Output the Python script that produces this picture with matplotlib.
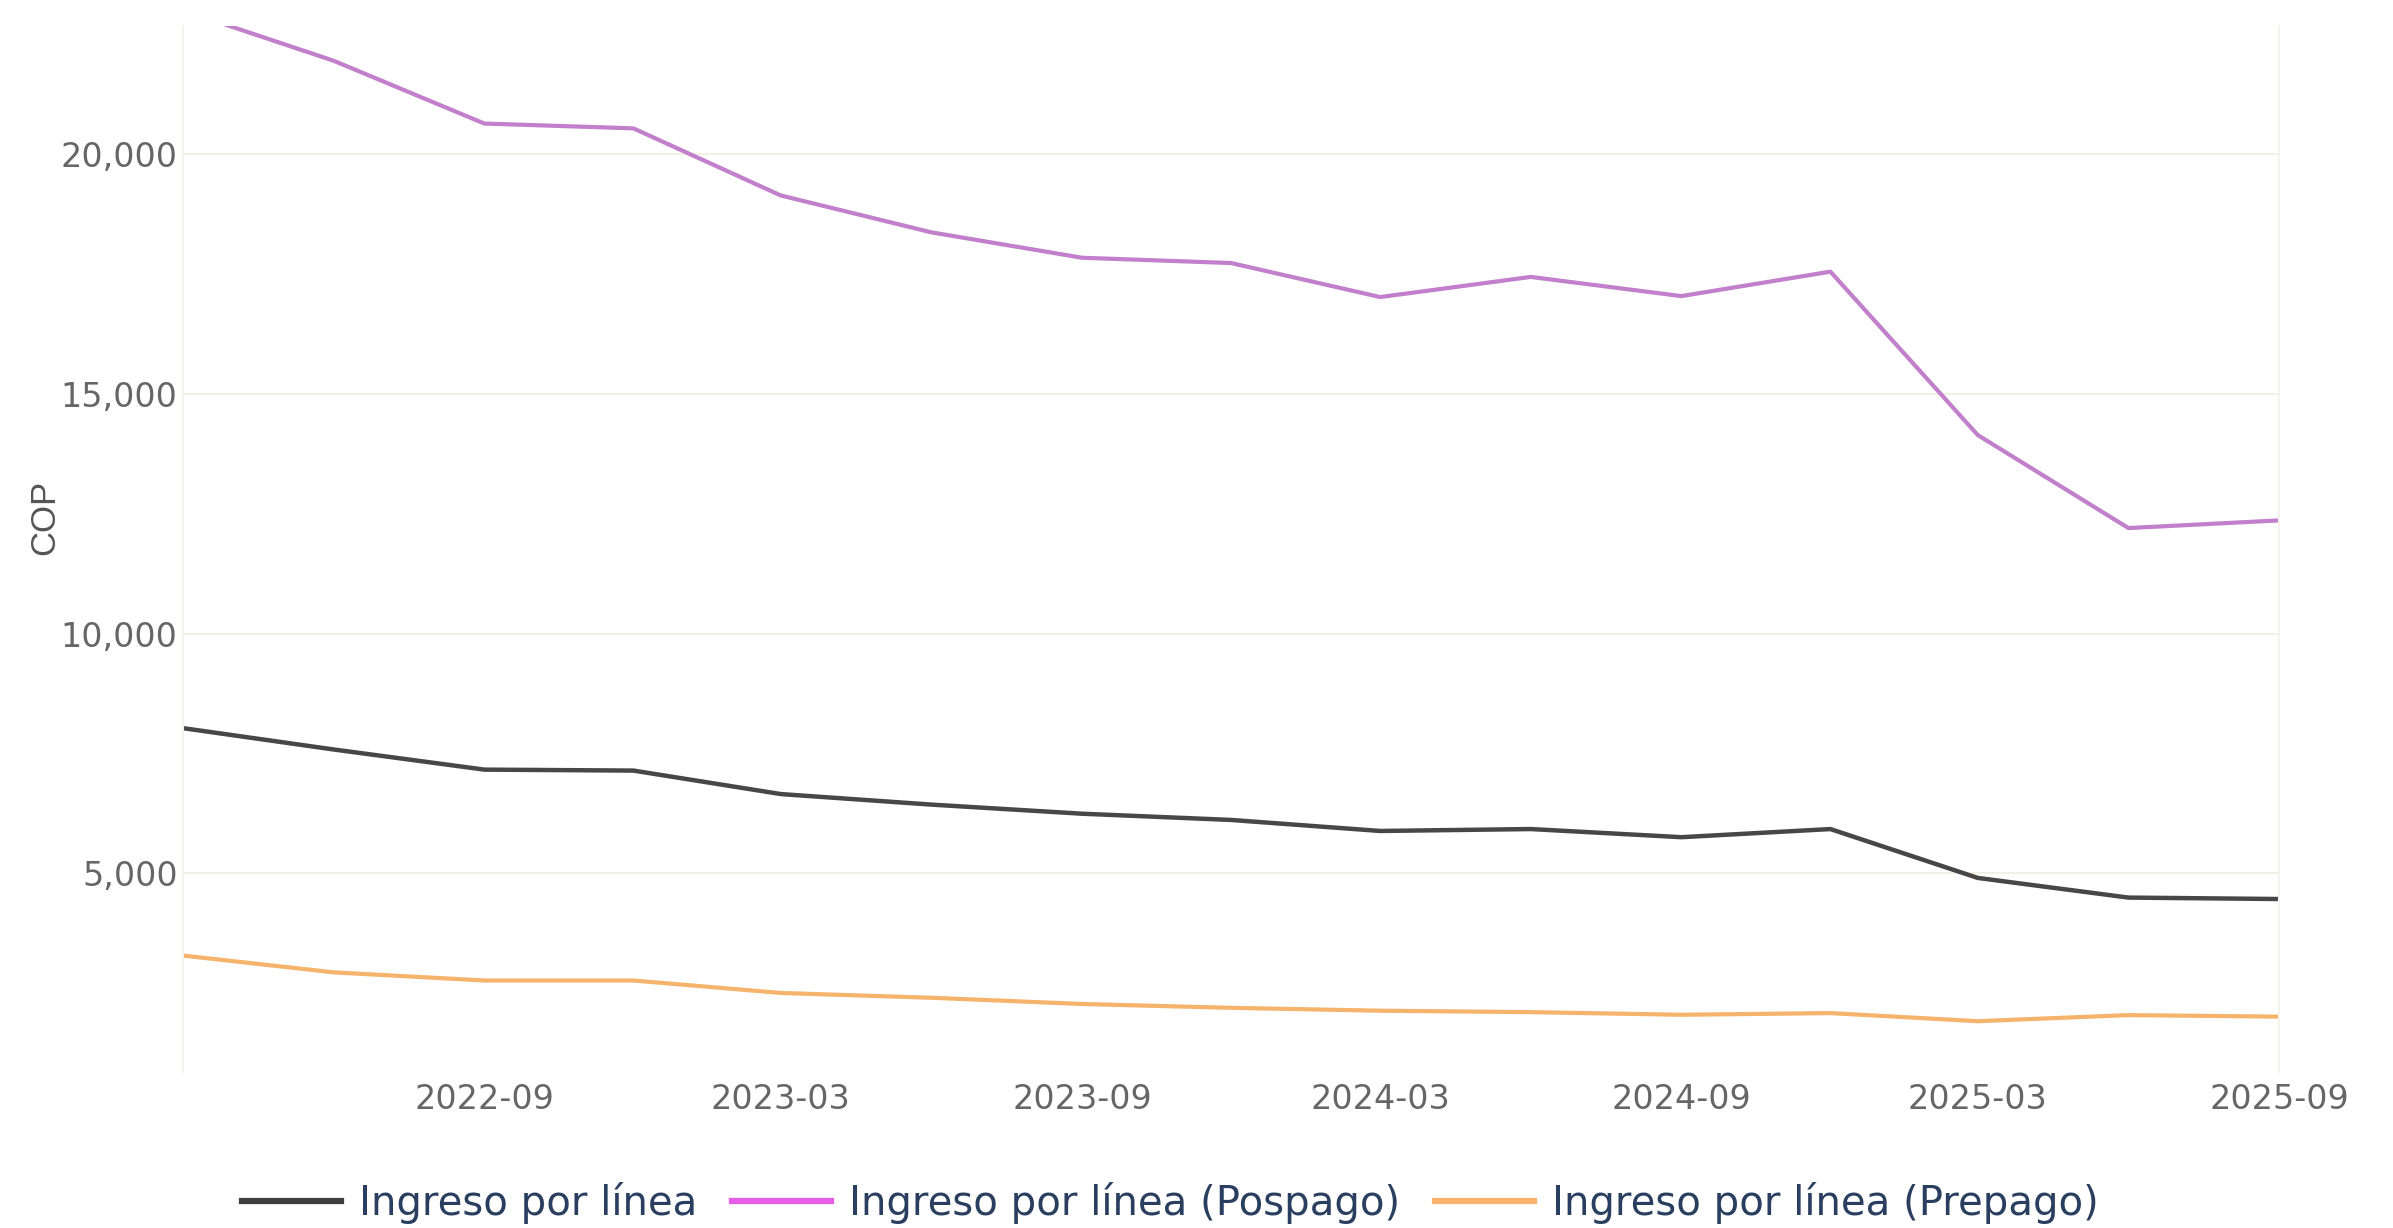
import matplotlib
matplotlib.use("Agg")
import matplotlib.pyplot as plt
import matplotlib.dates as mdates
from matplotlib.lines import Line2D
from matplotlib.ticker import FuncFormatter
import pandas as pd

periods = [
    "2022-03", "2022-06", "2022-09", "2022-12",
    "2023-03", "2023-06", "2023-09", "2023-12",
    "2024-03", "2024-06", "2024-09", "2024-12",
    "2025-03", "2025-06", "2025-09",
]
ingreso_total = [8025, 7580, 7160, 7140, 6650, 6430, 6240, 6110, 5880, 5920, 5750, 5920, 4900, 4490, 4460]
ingreso_pospago = [23000, 21950, 20640, 20540, 19140, 18370, 17840, 17730, 17020, 17440, 17040, 17550, 14140, 12200, 12360]
ingreso_prepago = [3280, 2930, 2760, 2760, 2500, 2400, 2270, 2190, 2130, 2100, 2045, 2080, 1911, 2038, 2006]
series_labels = ["Ingreso por línea", "Ingreso por línea (Pospago)", "Ingreso por línea (Prepago)"]
y_ticks = [5000, 10000, 15000, 20000]

dates = pd.to_datetime([p + "-01" for p in periods])

plt.rcParams["font.family"] = ["DejaVu Sans"]

fig = plt.figure(figsize=(23.93, 12.28), dpi=100)
ax = fig.add_axes([0.0765, 0.127, 0.8759, 0.852])

ax.plot(dates, ingreso_total, color="#474747", linewidth=3.2, solid_joinstyle="round")
ax.plot(dates, ingreso_pospago, color="#c17fcc", linewidth=3.0, solid_joinstyle="round")
ax.plot(dates, ingreso_prepago, color="#f6b36b", linewidth=3.0, solid_joinstyle="round")

ax.set_xlim(dates[0], dates[-1])
ax.set_ylim(850, 22680)

ax.set_yticks(y_ticks)
ax.yaxis.set_major_formatter(FuncFormatter(lambda v, _: f"{int(v):,}"))
ax.set_xticks(dates[2::2])
ax.xaxis.set_major_formatter(mdates.DateFormatter("%Y-%m"))

ax.tick_params(axis="both", length=0, labelsize=24, labelcolor="#666666")
ax.tick_params(axis="x", pad=8)
ax.tick_params(axis="y", pad=4)

ax.grid(axis="y", color="#f3f1e6", linewidth=1.5)
ax.set_axisbelow(True)
for side in ["top", "bottom"]:
    ax.spines[side].set_visible(False)
for side in ["left", "right"]:
    ax.spines[side].set_color("#f5f3ec")
    ax.spines[side].set_linewidth(1.5)

ax.set_ylabel("COP", fontsize=25, color="#555555", family=["Liberation Sans", "DejaVu Sans"])
ax.yaxis.set_label_coords(-0.058, 0.53)

handles = [
    Line2D([], [], color="#404040", linewidth=4.5),
    Line2D([], [], color="#e45ee6", linewidth=4.5),
    Line2D([], [], color="#fab36c", linewidth=4.5),
]
fig.legend(
    handles, series_labels,
    loc="center", bbox_to_anchor=(0.489, 0.02), ncol=3, frameon=False,
    fontsize=29, labelcolor="#2a3f5f",
    handlelength=2.45, handletextpad=0.45, columnspacing=0.87,
)

fig.savefig("out.png", dpi=100, facecolor="white")
